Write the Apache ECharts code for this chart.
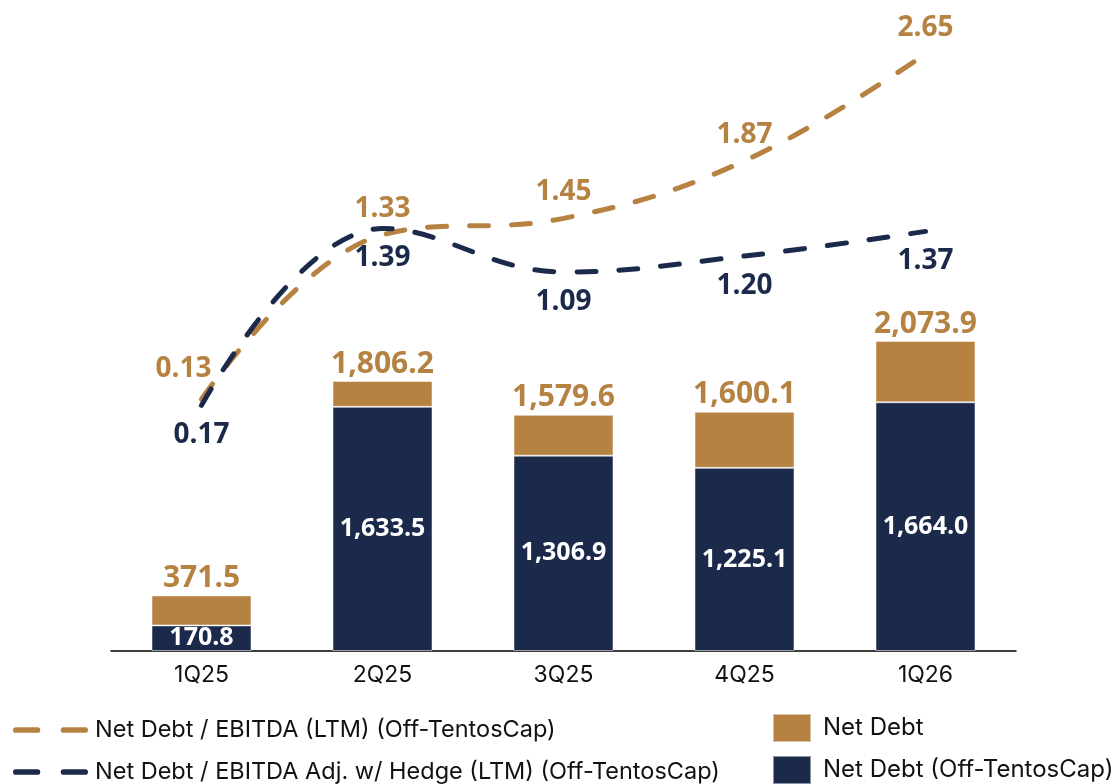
<!DOCTYPE html>
<html>
<head>
<meta charset="utf-8">
<script src="https://cdn.jsdelivr.net/npm/echarts@6/dist/echarts.min.js"></script>
<style>
html,body{margin:0;padding:0;background:#fff;}
#chart{width:1117px;height:784px;}
</style>
</head>
<body>
<div id="chart"></div>
<script>
const categories = ['1Q25', '2Q25', '3Q25', '4Q25', '1Q26'];
const netDebtOffTentos = [170.8, 1633.5, 1306.9, 1225.1, 1664.0];
const netDebtTotal = [371.5, 1806.2, 1579.6, 1600.1, 2073.9];
const ratioLTM = [0.13, 1.33, 1.45, 1.87, 2.65];
const ratioAdjHedge = [0.17, 1.39, 1.09, 1.20, 1.37];

const GOLD = '#B58242';
const NAVY = '#1B2A4A';
const netDebtGap = netDebtTotal.map((t, i) => +(t - netDebtOffTentos[i]).toFixed(1));
const fmt = v => v.toLocaleString('en-US', {minimumFractionDigits: 1, maximumFractionDigits: 1});
const numFont = '"Open Sans", "Noto Sans", sans-serif';
const txtFont = 'Inter, Roboto, sans-serif';
const dashIcon = 'path://M2.5,0 H21.5 A2.5,2.5 0 0 1 21.5,5 H2.5 A2.5,2.5 0 0 1 2.5,0 Z M44.5,0 H63.5 A2.5,2.5 0 0 1 63.5,5 H44.5 A2.5,2.5 0 0 1 44.5,0 Z';

const LINE_NAMES = ['Net Debt / EBITDA (LTM) (Off-TentosCap)', 'Net Debt / EBITDA Adj. w/ Hedge (LTM) (Off-TentosCap)'];
const BAR_NAMES = ['Net Debt', 'Net Debt (Off-TentosCap)'];

function lineLegend(name, color, top) {
  return {
    orient: 'vertical', left: 13, top: top, padding: 0,
    itemWidth: 75, itemHeight: 24, symbolKeepAspect: true,
    data: [{name: name, icon: dashIcon, itemStyle: {color: color}}],
    textStyle: {color: '#111', fontSize: 23.5, lineHeight: 24, fontFamily: txtFont, padding: [0, 0, 0, 2]}
  };
}
function barLegend(name, top) {
  return {
    orient: 'vertical', left: 772, top: top, padding: 0,
    itemWidth: 38, itemHeight: 28, icon: 'rect',
    data: [name],
    textStyle: {color: '#111', fontSize: 24, lineHeight: 24, fontFamily: txtFont, padding: [0, 0, 0, 7]}
  };
}

const chart = echarts.init(document.getElementById('chart'), null, {renderer: 'canvas'});
chart.setOption({
  animation: false,
  backgroundColor: '#ffffff',
  grid: {left: 111, right: 101, top: 20, bottom: 133, containLabel: false},
  xAxis: {
    type: 'category',
    data: categories,
    axisLine: {lineStyle: {color: '#000', width: 1.5}},
    axisTick: {show: false},
    axisLabel: {color: '#111', fontSize: 23, fontFamily: txtFont, margin: 13}
  },
  yAxis: [
    {type: 'value', min: 0, max: 4221, show: false, splitLine: {show: false}},
    {type: 'value', min: -1.524, max: 2.828, show: false, splitLine: {show: false}},
    {type: 'value', min: -1.708, max: 2.898, show: false, splitLine: {show: false}}
  ],
  legend: [
    lineLegend(LINE_NAMES[0], GOLD, 718),
    lineLegend(LINE_NAMES[1], NAVY, 760),
    barLegend(BAR_NAMES[0], 713),
    barLegend(BAR_NAMES[1], 755)
  ],
  series: [
    {
      name: BAR_NAMES[1],
      type: 'bar', stack: 'nd', barWidth: 100, yAxisIndex: 0,
      data: netDebtOffTentos,
      itemStyle: {color: NAVY, borderColor: 'rgba(255,255,255,0.5)', borderWidth: 1},
      label: {
        show: true, position: 'inside', color: '#fff', fontSize: 25, fontWeight: 'bold',
        fontFamily: numFont, formatter: p => fmt(netDebtOffTentos[p.dataIndex])
      },
      z: 2
    },
    {
      name: BAR_NAMES[0],
      type: 'bar', stack: 'nd', barWidth: 100, yAxisIndex: 0,
      data: netDebtGap,
      itemStyle: {color: GOLD, borderColor: 'rgba(255,255,255,0.5)', borderWidth: 1},
      label: {
        show: true, position: 'top', distance: 2, color: GOLD, fontSize: 30, fontWeight: 'bold',
        fontFamily: numFont, formatter: p => fmt(netDebtTotal[p.dataIndex])
      },
      z: 2
    },
    {
      name: LINE_NAMES[0],
      type: 'line', yAxisIndex: 2, smooth: 0.4, symbol: 'circle', symbolSize: 0.01,
      data: ratioLTM.map((v, i) => i === 0 ? {value: v, label: {offset: [-18, -4]}} : v),
      lineStyle: {color: GOLD, width: 5, type: [19, 23], cap: 'round'},
      itemStyle: {color: GOLD},
      label: {
        show: true, position: 'top', distance: 12, color: GOLD, fontSize: 28, fontWeight: 'bold',
        fontFamily: numFont, formatter: p => ratioLTM[p.dataIndex].toFixed(2)
      },
      z: 5
    },
    {
      name: LINE_NAMES[1],
      type: 'line', yAxisIndex: 1, smooth: 0.4, symbol: 'circle', symbolSize: 0.01,
      data: ratioAdjHedge,
      lineStyle: {color: NAVY, width: 5, type: [19, 23], cap: 'round'},
      itemStyle: {color: NAVY},
      label: {
        show: true, position: 'bottom', distance: 16, color: NAVY, fontSize: 28, fontWeight: 'bold',
        fontFamily: numFont, formatter: p => ratioAdjHedge[p.dataIndex].toFixed(2)
      },
      z: 5
    }
  ]
});
</script>
</body>
</html>
